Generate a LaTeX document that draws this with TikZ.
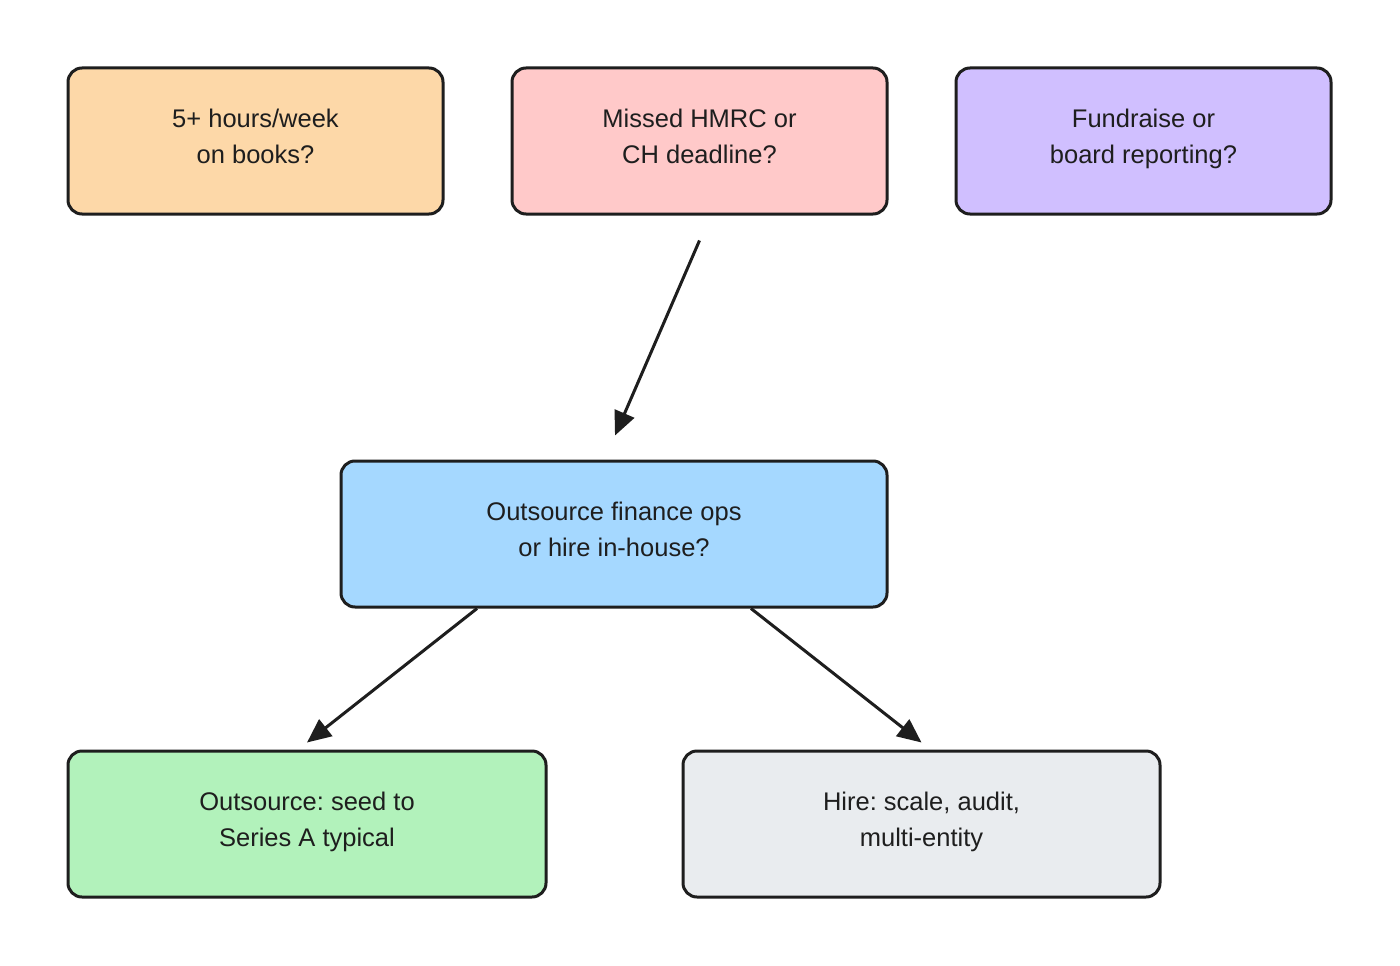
\documentclass[tikz,border=0pt]{standalone}
\usepackage{fontspec}
\setmainfont{Liberation Sans}
\frenchspacing
\usetikzlibrary{arrows.meta}
\definecolor{ink}{HTML}{1E1E1E}
\definecolor{cOrange}{HTML}{FDD8A8}
\definecolor{cPink}{HTML}{FFC9C9}
\definecolor{cPurple}{HTML}{D0BFFF}
\definecolor{cBlue}{HTML}{A5D8FF}
\definecolor{cGreen}{HTML}{B2F2BB}
\definecolor{cGrey}{HTML}{E9ECEF}
\tikzset{
  box/.style={draw=ink, line width=3pt, rounded corners=14pt, minimum height=146pt,
    align=center, text=ink, font=\fontsize{25.5}{36}\selectfont, inner sep=0pt,
    text depth=10pt},
  conn/.style={draw=ink, line width=3pt, -{Triangle[length=24pt,width=21pt]}}
}
\begin{document}
\begin{tikzpicture}[x=1pt,y=-1pt]
\useasboundingbox[fill=white] (0,0) rectangle (1400,966);
\node[box, fill=cOrange, minimum width=375pt] (a) at (255.5,141) {5+ hours/week\\on books?};
\node[box, fill=cPink, minimum width=375pt] (b) at (699.5,141) {Missed HMRC or\\CH deadline?};
\node[box, fill=cPurple, minimum width=375pt] (c) at (1143.5,141) {Fundraise or\\board reporting?};
\node[box, fill=cBlue, minimum width=546pt] (d) at (614,534) {Outsource finance ops\\or hire in-house?};
\node[box, fill=cGreen, minimum width=478pt] (e) at (307,824) {Outsource: seed to\\Series A typical};
\node[box, fill=cGrey, minimum width=477pt] (f) at (921.5,824) {Hire: scale, audit,\\multi-entity};
\coordinate (bs) at ([yshift=-25pt]b.south);
\coordinate (dn) at ([yshift=24pt,xshift=1pt]d.north);
\draw[conn] (bs) -- (dn);
\draw[conn] ([xshift=-137pt]d.south) -- ([yshift=7pt]e.north);
\draw[conn] ([xshift=137pt]d.south) -- ([yshift=7pt]f.north);
\end{tikzpicture}
\end{document}
